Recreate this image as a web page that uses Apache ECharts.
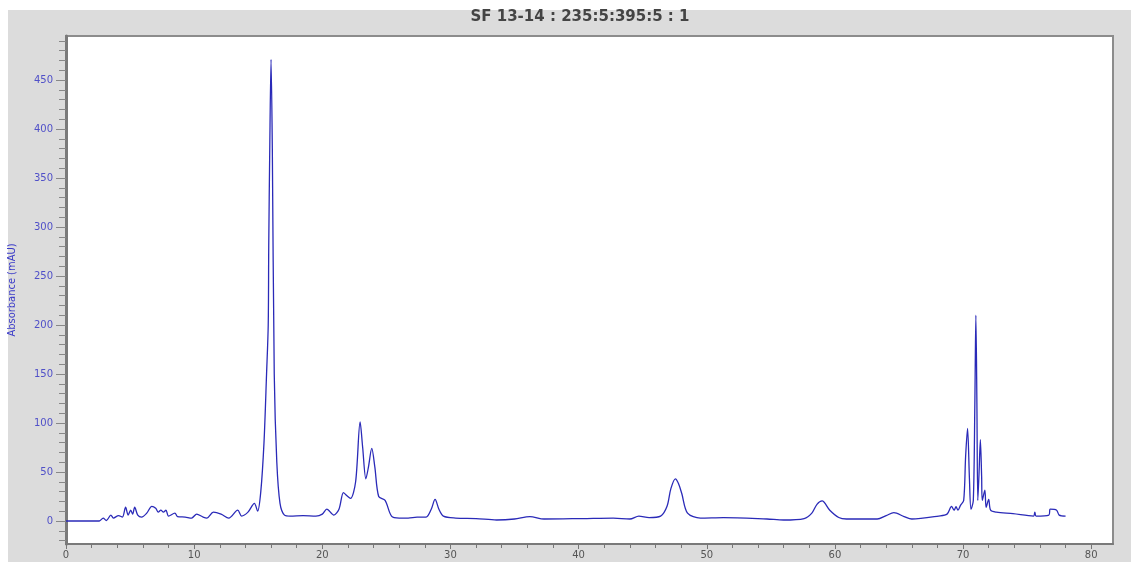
<!DOCTYPE html>
<html>
<head>
<meta charset="utf-8">
<title>SF 13-14 chromatogram</title>
<script src="https://cdn.jsdelivr.net/npm/echarts@6/dist/echarts.min.js"></script>
<style>
    html, body { margin: 0; padding: 0; background: #fff; }
    #wrap { position: relative; width: 1131px; height: 562px; overflow: hidden; }
    #panel { position: absolute; left: 8px; top: 10px; right: 0; bottom: 0; background: #dcdcdc; }
    #chart { position: absolute; left: 0; top: 0; width: 1131px; height: 562px; }
</style>
</head>
<body>
<div id="wrap">
    <div id="panel"></div>
    <div id="chart"></div>
</div>
<script>
// retention time (min) and absorbance (mAU)
const timeMin = [
    0, 2.6, 2.9, 3.15, 3.5, 3.7, 4.1, 4.4, 4.65, 4.85, 5.05, 5.2, 5.36, 5.6, 5.9,
    6.3, 6.7, 7.0, 7.2, 7.4, 7.6, 7.8, 8.0, 8.5, 8.7, 9.3, 9.8, 10.2, 10.7, 11.0,
    11.5, 12.1, 12.7, 13.4, 13.7, 14.2, 14.7, 14.95, 15.2, 15.45, 15.65, 15.78, 15.82, 15.9, 16.0,
    16.1, 16.25, 16.45, 16.7, 17.05, 17.5, 18.5, 19.5, 20.0, 20.35, 20.9, 21.3, 21.65, 21.9, 22.2,
    22.6, 22.95, 23.15, 23.4, 23.6, 23.86, 24.1, 24.4, 24.9, 25.4, 26.0, 26.7, 27.4, 28.1, 28.5,
    28.8, 29.1, 29.45, 30.4, 32.0, 33.6, 35.0, 36.2, 37.3, 40.3, 42.7, 44.0, 44.7, 45.5, 46.4,
    46.9, 47.2, 47.55, 47.8, 48.05, 48.5, 49.5, 51.3, 54.7, 56.0, 57.6, 58.2, 58.6, 59.0, 59.6,
    60.3, 60.9, 63.3, 64.0, 64.6, 65.4, 66.0, 68.1, 68.75, 69.1, 69.3, 69.45, 69.6, 69.8, 70.05,
    70.2, 70.35, 70.5, 70.62, 70.8, 70.92, 71.0, 71.08, 71.15, 71.25, 71.35, 71.45, 71.5, 71.7, 71.8,
    72.0, 72.15, 72.6, 73.9, 75.5, 75.6, 75.7, 76.7, 76.8, 77.3, 77.5, 78.0
];
const absorbance = [
    0, 0, 3, 0.5, 6, 3, 5.5, 4, 14, 6, 11, 7, 14, 6, 4,
    8, 15, 13, 9, 11, 9, 11, 5, 8, 4.5, 4, 3, 7, 4, 3,
    9, 7, 3, 11, 5, 9, 18, 10, 30, 80, 150, 200, 280, 380, 471,
    380, 150, 60, 18, 6, 5, 5.5, 5, 7, 12, 6, 12, 29, 26, 23,
    40, 101, 75, 43, 55, 74, 55, 25, 21, 5, 3, 3, 4, 4, 12,
    22, 12, 5, 3, 2.5, 1, 2, 4.5, 2, 2.5, 3, 2, 5, 3.5, 5,
    15, 33, 43, 38, 28, 8, 3, 3.5, 2, 1, 2.5, 8, 17, 20.5, 11,
    3.5, 2, 2, 5.5, 8.5, 4.5, 2, 5, 7, 15, 11, 14.5, 11, 16, 21,
    66, 94.5, 42, 12, 21, 120, 210, 120, 21, 50, 83, 45, 21, 31.5, 14,
    22, 11, 9, 7.5, 5, 9, 5, 6, 12, 11, 6, 5
];

// axis ticks
const xTickLabels = [0, 10, 20, 30, 40, 50, 60, 70, 80];
const yTickLabels = [0, 50, 100, 150, 200, 250, 300, 350, 400, 450];
const xMinorTicks = [];
for (let t = 0; t <= 80; t += 2) xMinorTicks.push(t);
const yMinorTicks = [];
for (let v = -20; v <= 490; v += 10) yMinorTicks.push(v);

document.addEventListener('DOMContentLoaded', function() {
    const chart = echarts.init(document.getElementById('chart'));

    const trace = timeMin.map((t, i) => [t, absorbance[i]]);

    const xRange = { min: 0, max: 81.7 };
    const yRange = { min: -23.5, max: 495 };

    const option = {
        backgroundColor: 'transparent',
        animation: false,
        title: {
            text: 'SF 13-14 : 235:5:395:5 : 1',
            left: 575,
            top: 5,
            textAlign: 'center',
            textStyle: {
                fontFamily: 'DejaVu Sans',
                fontSize: 15,
                fontWeight: 'bold',
                color: '#444'
            }
        },
        grid: {
            left: 66,
            right: 18,
            top: 36,
            bottom: 18,
            outerBoundsMode: 'none',
            containLabel: false,
            show: true,
            backgroundColor: '#fff',
            borderColor: '#8c8c8c',
            borderWidth: 2
        },
        xAxis: [
            {
                type: 'value',
                min: xRange.min,
                max: xRange.max,
                name: 'Time (min)',
                nameLocation: 'middle',
                nameGap: 21,
                nameTextStyle: { fontFamily: 'DejaVu Sans', fontSize: 11, color: '#444' },
                axisLine: { show: true, onZero: false, lineStyle: { color: '#7a7a7a', width: 2 } },
                axisTick: { show: true, customValues: xTickLabels, length: 5, lineStyle: { color: '#777' } },
                axisLabel: {
                    customValues: xTickLabels,
                    margin: 6,
                    fontFamily: 'DejaVu Sans',
                    fontSize: 10,
                    color: '#555'
                },
                splitLine: { show: false }
            },
            {
                type: 'value',
                min: xRange.min,
                max: xRange.max,
                position: 'bottom',
                axisLine: { show: false, onZero: false },
                axisTick: { show: true, customValues: xMinorTicks, length: 4, lineStyle: { color: '#777' } },
                axisLabel: { show: false },
                splitLine: { show: false }
            }
        ],
        yAxis: [
            {
                type: 'value',
                min: yRange.min,
                max: yRange.max,
                name: 'Absorbance (mAU)',
                nameLocation: 'middle',
                nameGap: 48,
                nameTextStyle: {
                    fontFamily: "'DejaVu Sans Condensed', 'Liberation Sans Narrow', 'Liberation Sans', sans-serif",
                    fontSize: 11,
                    color: '#3a3ac8'
                },
                axisLine: { show: true, onZero: false, lineStyle: { color: '#7a7a7a', width: 3 } },
                axisTick: { show: true, customValues: yTickLabels, length: 10, lineStyle: { color: '#888' } },
                axisLabel: {
                    customValues: yTickLabels,
                    margin: 13,
                    fontFamily: 'DejaVu Sans',
                    fontSize: 10,
                    color: '#5050c8'
                },
                splitLine: { show: false }
            },
            {
                type: 'value',
                min: yRange.min,
                max: yRange.max,
                position: 'left',
                axisLine: { show: false, onZero: false },
                axisTick: { show: true, customValues: yMinorTicks, length: 7, lineStyle: { color: '#888' } },
                axisLabel: { show: false },
                splitLine: { show: false }
            }
        ],
        series: [{
            name: 'SF 13-14',
            type: 'line',
            data: trace,
            showSymbol: false,
            symbol: 'none',
            smooth: 0.3,
            lineStyle: { color: '#2a2ab8', width: 1.3 }
        }]
    };
    chart.setOption(option);

    window.addEventListener('resize', function() {
        chart.resize();
    });
});
</script>
</body>
</html>
